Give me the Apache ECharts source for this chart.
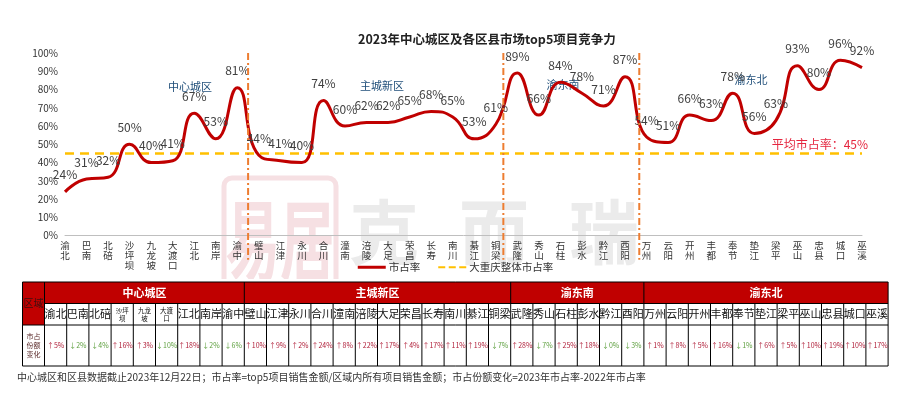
<!DOCTYPE html>
<html><head><meta charset="utf-8">
<script src="https://cdn.jsdelivr.net/npm/echarts@6/dist/echarts.min.js"></script>
<style>html,body{margin:0;padding:0;background:#fff}#c{width:911px;height:402px}</style>
</head><body><div id="c"></div>
<script>
// ---------- data ----------
const regions = ['中心城区', '主城新区', '渝东南', '渝东北'];
const regionCounts = [9, 12, 6, 11];
const categories = [
  '渝北','巴南','北碚','沙坪坝','九龙坡','大渡口','江北','南岸','渝中',
  '璧山','江津','永川','合川','潼南','涪陵','大足','荣昌','长寿','南川','綦江','铜梁',
  '武隆','秀山','石柱','彭水','黔江','酉阳',
  '万州','云阳','开州','丰都','奉节','垫江','梁平','巫山','忠县','城口','巫溪'
];
const shareValues = [
  24,31,32,50,40,41,67,53,81,
  44,41,40,74,60,62,62,65,68,65,53,61,
  89,66,84,78,71,87,
  54,51,66,63,78,56,63,93,80,96,92
];
const avgShare = 45;
const changes = [
  '↑5%','↓2%','↓4%','↑16%','↑3%','↓10%','↑18%','↓2%','↓6%',
  '↑10%','↑9%','↑2%','↑24%','↑8%','↑22%','↑17%','↑4%','↑17%','↑11%','↑19%','↓7%',
  '↑28%','↓7%','↑25%','↑18%','↓0%','↓3%',
  '↑1%','↑8%','↑5%','↑16%','↓1%','↑6%','↑5%','↑10%','↑19%','↑10%','↑17%'
];
const yMin = 0, yMax = 100, yStep = 10;
const titleText = '2023年中心城区及各区县市场top5项目竞争力';
const noteText = '中心城区和区县数据截止2023年12月22日；市占率=top5项目销售金额/区域内所有项目销售金额；市占份额变化=2023年市占率-2022年市占率';

// ---------- chart ----------
const FONT = 'Noto Sans CJK SC';
const chart = echarts.init(document.getElementById('c'));
const N = categories.length;

const bounds = [];
let acc = 0;
for (let i = 0; i < regionCounts.length - 1; i++) { acc += regionCounts[i]; bounds.push(acc - 0.5); }
const boundTweak = [0, -0.15, 0.16];

// ---------- table & annotations (graphic) ----------
const G = [];
const tL = 22.5, firstW = 22, colW = 22.2;
const rY = [282, 303.5, 325, 366];
const tR = tL + firstW + N * colW;
// watermark
G.push({type:'rect', z:-10, shape:{x:224, y:178, width:112, height:140, r:8}, style:{fill:'none', stroke:'#F6E0E3', lineWidth:5}});
G.push({type:'text', z:-10, x:280, y:240, scaleX:0.62, style:{text:'易居', fill:'#F6E0E3', fontSize:88, fontFamily:FONT, fontWeight:'bold', align:'center', verticalAlign:'middle'}});
['克','而','瑞'].forEach((ch, i) => {
  G.push({type:'text', z:-10, x:384 + i*110, y:232, style:{text:ch, fill:'#EBEBEB', fontSize:70, fontFamily:FONT, fontWeight:'bold', align:'center', verticalAlign:'middle'}});
});
G.push({type:'rect', z:-5, shape:{x:0, y:279, width:911, height:123}, style:{fill:'#fff'}});
G.push({type:'rect', z:1, shape:{x:tL, y:rY[0], width:tR-tL, height:rY[1]-rY[0]}, style:{fill:'#C00000'}});
G.push({type:'rect', z:1, shape:{x:tL, y:rY[0], width:firstW, height:rY[2]-rY[0]}, style:{fill:'#C00000'}});
const ln = (x1,y1,x2,y2) => G.push({type:'line', z:3, shape:{x1,y1,x2,y2}, style:{stroke:'#000', lineWidth:1}});
ln(tL, rY[0], tR, rY[0]);
ln(tL+firstW, rY[1], tR, rY[1]);
ln(tL, rY[2], tR, rY[2]);
ln(tL, rY[3], tR, rY[3]);
ln(tL, rY[0], tL, rY[3]);
ln(tR, rY[0], tR, rY[3]);
ln(tL+firstW, rY[0], tL+firstW, rY[3]);
for (let i = 1; i < N; i++) {
  const x = tL + firstW + i*colW;
  ln(x, rY[1], x, rY[3]);
}
let c0 = 0;
regions.forEach((r, k) => {
  const x0 = tL + firstW + c0*colW, w = regionCounts[k]*colW;
  if (k > 0) ln(x0, rY[0], x0, rY[1]);
  G.push({type:'text', z:4, x:x0 + w/2, y:(rY[0]+rY[1])/2, style:{text:r, fill:'#fff', fontSize:11, fontWeight:'bold', fontFamily:FONT, align:'center', verticalAlign:'middle'}});
  c0 += regionCounts[k];
});
G.push({type:'text', z:4, x:tL+firstW/2, y:(rY[0]+rY[2])/2, style:{text:'区域', fill:'#3a1010', fontSize:10, fontFamily:FONT, align:'center', verticalAlign:'middle'}});
G.push({type:'text', z:4, x:tL+firstW/2, y:(rY[2]+rY[3])/2, style:{text:'市占\n份额\n变化', fill:'#5a2a2a', fontSize:7, lineHeight:9, fontFamily:FONT, align:'center', verticalAlign:'middle'}});
categories.forEach((name, i) => {
  const cx = tL + firstW + (i+0.5)*colW;
  const long = name.length > 2;
  G.push({type:'text', z:4, x:cx, y:(rY[1]+rY[2])/2, style:{
    text: long ? name.slice(0,2) + '\n' + name.slice(2) : name,
    fill:'#111', fontSize: long ? 6.5 : 11, lineHeight: long ? 8 : 13, fontFamily:FONT, align:'center', verticalAlign:'middle'}});
  const up = changes[i].charAt(0) === '↑';
  G.push({type:'text', z:4, x:cx, y:(rY[2]+rY[3])/2, style:{text:changes[i], fill: up ? '#B0203A' : '#5FA040', fontSize:7, fontFamily:FONT, align:'center', verticalAlign:'middle'}});
});
G.push({type:'text', z:4, x:17, y:377, style:{text:noteText, fill:'#333', fontSize:10, fontFamily:FONT, align:'left', verticalAlign:'middle'}});
const regionLabelPos = [[190,87],[382,86],[563,85],[751,80]];
regions.forEach((r,k) => G.push({type:'text', z:5, x:regionLabelPos[k][0], y:regionLabelPos[k][1], style:{text:r, fill:'#1F4E79', fontSize:11, fontFamily:FONT, align:'center', verticalAlign:'middle'}}));

const option = {
  animation: false,
  textStyle: {fontFamily: FONT},
  title: {text: titleText, left: 358, top: 33, padding: 0,
    textStyle: {fontSize: 12.5, fontWeight: 'bold', color: '#222', fontFamily: FONT}},
  legend: {
    top: 262, left: 'center', padding: 0, itemWidth: 28, itemHeight: 3, itemGap: 18,
    textStyle: {fontSize: 10.5, color: '#333', padding: [0, 0, 0, -2]},
    data: [
      {name: '市占率', icon: 'rect', itemStyle: {color: '#C00000'}},
      {name: '大重庆整体市占率', icon: 'path://M0,0h7v2h-7z M10.5,0h7v2h-7z M21,0h7v2h-7z', itemStyle: {color: '#FFC000'}}
    ]
  },
  grid: {left: 65, right: 49, top: 53, bottom: 166.3},
  xAxis: [{
    type: 'category', data: categories, boundaryGap: false,
    axisLine: {lineStyle: {color: '#BFBFBF'}}, axisTick: {show: false},
    axisLabel: {interval: 0, fontSize: 9.5, lineHeight: 10, color: '#333', margin: 5,
      formatter: v => v.split('').join('\n')}
  }, {
    type: 'value', min: 0, max: N - 1, show: false
  }],
  yAxis: {
    type: 'value', min: yMin, max: yMax, interval: yStep,
    axisLine: {show: false}, axisTick: {show: false}, splitLine: {show: false},
    axisLabel: {formatter: '{value}%', fontSize: 10, color: '#333', margin: 7}
  },
  series: [{
    name: '市占率', type: 'line', data: shareValues, smooth: 0.5, symbol: 'circle', symbolSize: 0, showSymbol: true, z: 5,
    lineStyle: {color: '#C00000', width: 3}, itemStyle: {color: '#C00000'},
    labelLayout: {hideOverlap: false},
    label: {show: true, position: 'top', distance: 11, formatter: '{c}%', fontSize: 12, color: '#404040'}
  }, {
    name: '大重庆整体市占率', type: 'line', data: categories.map(() => avgShare), symbol: 'none', z: 4,
    lineStyle: {color: '#FFC000', width: 2.5, type: [9, 6]}, itemStyle: {color: '#FFC000'},
    markLine: {
      silent: true, symbol: 'none', lineStyle: {color: 'rgba(0,0,0,0)', width: 0},
      label: {show: true, position: 'insideEndTop', formatter: '平均市占率：' + avgShare + '%', color: '#E5263F', fontSize: 12, distance: [-6, 3]},
      data: [{yAxis: avgShare}]
    }
  }, {
    name: 'dividers', type: 'custom', xAxisIndex: 1, data: bounds.map((b, i) => [b + boundTweak[i]]), z: 6, silent: true,
    renderItem: (params, api) => {
      const top = api.coord([api.value(0), yMax]);
      const bot = api.coord([api.value(0), yMin]);
      return {type: 'line', shape: {x1: top[0], y1: top[1], x2: bot[0], y2: bot[1] + 24},
        style: {stroke: '#ED7D31', lineWidth: 2, lineDash: [7, 3, 2, 3]}};
    }
  }],
  graphic: G
};
chart.setOption(option);
</script>
</body></html>
